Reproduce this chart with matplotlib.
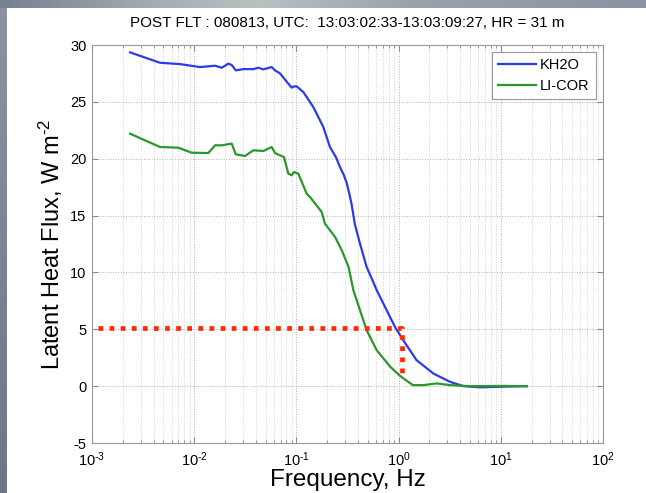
import numpy as np
import matplotlib
matplotlib.use('Agg')
import matplotlib.pyplot as plt
from matplotlib.ticker import LogLocator, NullFormatter, FixedLocator

plt.rcParams['font.family'] = ['Liberation Sans', 'DejaVu Sans']
plt.rcParams['axes.unicode_minus'] = False
plt.rcParams['mathtext.fontset'] = 'custom'
plt.rcParams['mathtext.rm'] = 'Liberation Sans'
plt.rcParams['mathtext.it'] = 'Liberation Sans'
plt.rcParams['mathtext.default'] = 'regular'

# KH2O cospectral cumulative flux
f_kh = [0.00236, 0.00463, 0.00726, 0.0114, 0.016, 0.0186, 0.0216, 0.0233, 0.0255,
        0.0303, 0.0379, 0.0424, 0.0475, 0.0573, 0.0618, 0.0692, 0.0834, 0.0899,
        0.0948, 0.1007, 0.117, 0.1465, 0.1834, 0.213, 0.245, 0.267, 0.29, 0.31, 0.33,
        0.347, 0.374, 0.419, 0.487, 0.55, 0.611, 0.764, 0.922, 1.11, 1.50, 2.19, 3.19,
        4.3, 6.27, 10, 18]
kh = [29.35, 28.44, 28.32, 28.06, 28.18, 28.0, 28.36, 28.24, 27.77,
      27.88, 27.88, 28.0, 27.86, 28.06, 27.77, 27.5, 26.6, 26.25,
      26.36, 26.36, 25.86, 24.54, 22.79, 21.03, 20.1, 19.27, 18.6, 17.9, 16.9,
      16.0, 14.2, 12.54, 10.48, 9.4, 8.44, 6.68, 5.21, 4.04, 2.28, 1.11, 0.38,
      0.0, -0.1, -0.05, 0.0]

# LI-COR
f_li = [0.00236, 0.00463, 0.0070, 0.00944, 0.01374, 0.016, 0.0186, 0.0233, 0.0255,
        0.0314, 0.0379, 0.0475, 0.0573, 0.0618, 0.0692, 0.0755, 0.0834, 0.0899,
        0.0948, 0.1045, 0.126, 0.136, 0.1767, 0.19, 0.239, 0.278, 0.324, 0.361,
        0.419, 0.487, 0.611, 0.83, 1.04, 1.38, 1.74, 2.36, 3.19, 5.0, 10, 18]
li = [22.2, 21.03, 20.97, 20.53, 20.5, 21.18, 21.18, 21.33, 20.39,
      20.24, 20.74, 20.68, 21.03, 20.5, 20.3, 20.15, 18.69, 18.54,
      18.83, 18.69, 16.93, 16.63, 15.32, 14.3, 13.12, 11.95, 10.48, 8.44,
      6.68, 4.92, 3.16, 1.70, 0.88, 0.09, 0.09, 0.24, 0.09, 0.0, 0.02, 0.0]

# red dotted marker of the 5 W m-2 level
red_x = [0.00115, 1.07, 1.07]
red_y = [5.15, 5.15, 1.1]

title = 'POST FLT : 080813, UTC:  13:03:02:33-13:03:09:27, HR = 31 m'
y_ticks = [-5, 0, 5, 10, 15, 20, 25, 30]
x_decades = [1e-3, 1e-2, 1e-1, 1e0, 1e1, 1e2]
x_labels = ['$10^{\u20103}$', '$10^{\u20102}$', '$10^{\u20101}$', '$10^{0}$', '$10^{1}$', '$10^{2}$']

fig = plt.figure(figsize=(6.46, 4.93), dpi=100)

# slide-like background: grey strips at top and left
bg = fig.add_axes([0, 0, 1, 1], zorder=-5)
W, H = 646, 493
img = np.ones((H, W, 3))
xs = np.linspace(0, 1, W)
top = np.stack([np.interp(xs, [0, 0.25, 0.4, 0.65, 1], c) for c in
                ([0.47, 0.66, 0.73, 0.6, 0.55], [0.50, 0.68, 0.75, 0.63, 0.58], [0.56, 0.70, 0.76, 0.67, 0.63])], axis=1)
img[:8, :, :] = top[None, :, :]
ys = np.linspace(0, 1, H)
left = np.stack([np.interp(ys, [0, 1], c) for c in ([0.55, 0.43], [0.58, 0.46], [0.63, 0.53])], axis=1)
img[8:, :7, :] = left[8:, None, :]
bg.imshow(img, aspect='auto', extent=[0, 1, 0, 1])
bg.axis('off')

ax = fig.add_axes([0.1424, 0.1014, 0.7910, 0.8073])
ax.semilogx(f_kh, kh, color='#2b3be6', lw=1.6, label='KH2O')
ax.semilogx(f_li, li, color='#2a972a', lw=1.6, label='LI-COR')
ax.plot(red_x, red_y, color='#ff2a00', lw=3.4, linestyle=(0, (1.0, 1.35)),
        dash_capstyle='butt', zorder=5)

ax.set_xlim(1e-3, 1e2)
ax.set_ylim(-5, 30)
ax.xaxis.set_major_locator(FixedLocator(x_decades))
ax.set_xticklabels(x_labels)
ax.xaxis.set_minor_locator(LogLocator(base=10, subs=np.arange(2, 10), numticks=20))
ax.xaxis.set_minor_formatter(NullFormatter())
ax.set_yticks(y_ticks)
ax.grid(True, which='major', linestyle=':', color='#b0b0b0', lw=0.7)
ax.grid(True, which='minor', axis='x', linestyle=':', color='#c8c8c8', lw=0.6)
ax.tick_params(which='both', direction='in', top=True, right=True, labelsize=10.5,
               color='#888888')
ax.tick_params(axis='x', pad=5)
ax.tick_params(axis='y', pad=4)
ax.tick_params(which='major', length=4)
ax.tick_params(which='minor', length=2)
for s in ax.spines.values():
    s.set_color('#999999')

ax.set_title(title, fontsize=11, pad=13)
ax.set_xlabel('Frequency, Hz', fontsize=17.5, labelpad=0)
ax.set_ylabel('Latent Heat Flux, W m$^{\u20102}$', fontsize=17, labelpad=4)

leg = ax.legend(loc='upper right', fontsize=10.5, fancybox=False, framealpha=1,
                edgecolor='#999999', handlelength=2.6, handletextpad=0.3,
                borderaxespad=0.5)
leg.get_frame().set_linewidth(0.8)

fig.savefig('out.png', dpi=100)
